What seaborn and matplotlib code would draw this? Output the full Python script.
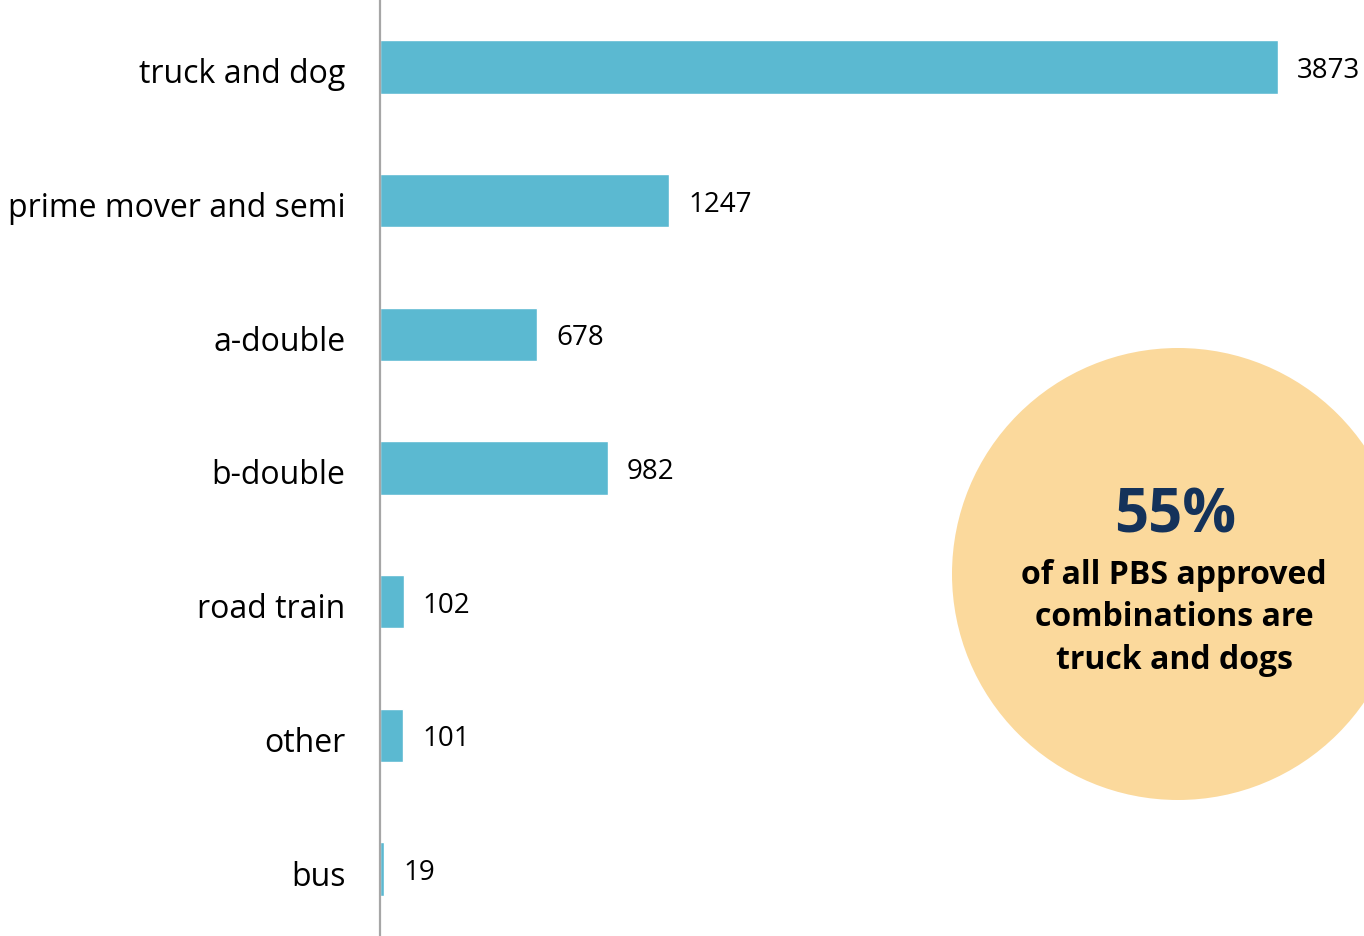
import matplotlib
matplotlib.use("Agg")
import matplotlib.pyplot as plt
import matplotlib.transforms as mtransforms
from matplotlib.patches import Ellipse
import seaborn as sns
import pandas as pd

categories = ["truck and dog", "prime mover and semi", "a-double", "b-double",
              "road train", "other", "bus"]
counts = [3873, 1247, 678, 982, 102, 101, 19]

bar_color = "#5BB9D1"
circle_color = "#FBD99C"
navy = "#14325A"

sns.set_style("white")
plt.rcParams["font.family"] = ["Open Sans", "DejaVu Sans"]

df = pd.DataFrame({"category": categories, "count": counts})

W, H = 1364, 936
fig = plt.figure(figsize=(W / 100, H / 100), dpi=100)
ax_left = 380 / W
ax_width = (898 * 4000 / 3873) / W
ax = fig.add_axes([ax_left, 0, ax_width, 1])

sns.barplot(data=df, x="count", y="category", color=bar_color, width=0.4,
            saturation=1, ax=ax)
ax.set_xlim(0, 4000)
ax.set_ylim(6.5, -0.5)
ax.set_xlabel("")
ax.set_ylabel("")
ax.set_xticks([])
for s in ["top", "right", "bottom"]:
    ax.spines[s].set_visible(False)
ax.spines["left"].set_color("#A6A6A6")
ax.spines["left"].set_linewidth(1.6)
ax.tick_params(axis="y", length=0, pad=25, labelsize=23)
shift = mtransforms.ScaledTranslation(0, -4 / 100, fig.dpi_scale_trans)
for lbl in ax.get_yticklabels():
    lbl.set_color("black")
    lbl.set_transform(lbl.get_transform() + shift)

for i, v in enumerate(counts):
    ax.annotate(str(v), xy=(v, i), xytext=(19, -4), textcoords="offset pixels",
                ha="left", va="center", fontsize=20, color="black",
                annotation_clip=False)

# highlight circle
cx, cy, r = 1178, 574, 226
fig.patches.append(Ellipse((cx / W, 1 - cy / H), 2 * r / W, 2 * r / H,
                           transform=fig.transFigure, facecolor=circle_color,
                           edgecolor="none", zorder=0))
fig.text(1175 / W, 1 - 517 / H, "55%", ha="center", va="center",
         fontsize=43, fontweight="bold", color=navy)
fig.text(1174 / W, 1 - 618 / H,
         "of all PBS approved\ncombinations are\ntruck and dogs",
         ha="center", va="center", fontsize=23, fontweight="bold",
         color="black", linespacing=1.38)

fig.savefig("out.png", dpi=100)
